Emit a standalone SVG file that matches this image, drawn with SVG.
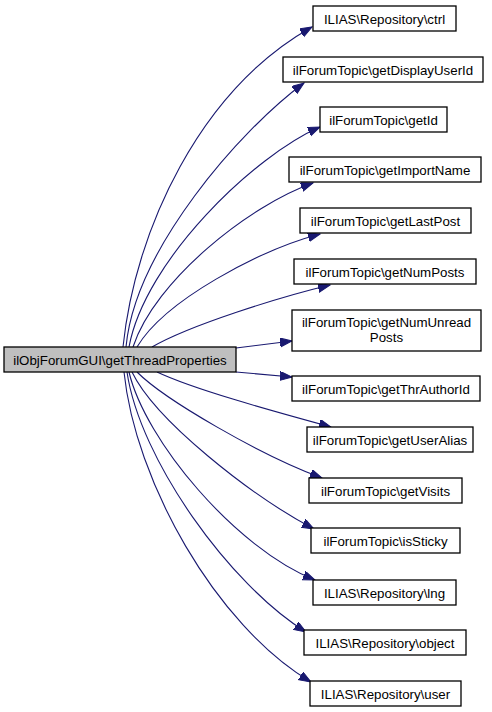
<svg xmlns="http://www.w3.org/2000/svg" width="492" height="712" viewBox="0 0 492 712">
<style>
.n rect{fill:#ffffff;stroke:#000000;stroke-width:1.3}
.n.main rect{fill:#bfbfbf}
.n text{font-family:"Liberation Sans",Arial,Helvetica,sans-serif;font-size:13.3px;fill:#000;text-anchor:middle}
.e path{fill:none;stroke:#191970;stroke-width:1.1}
</style>
<defs>
<marker id="ah" markerUnits="userSpaceOnUse" markerWidth="14" markerHeight="12" refX="12" refY="4.5" orient="auto">
<path d="M0,0 L12,4.5 L0,9 Z" fill="#191970" stroke="#191970" stroke-width="1"/>
</marker>
</defs>
<g id="edges" class="e">
<path marker-end="url(#ah)" d="M123,347 C135,230 200,90 312,27"/>
<path marker-end="url(#ah)" d="M126,347 C135,250 240,130 304,83"/>
<path marker-end="url(#ah)" d="M129,347 C145,260 255,155 320,127"/>
<path marker-end="url(#ah)" d="M133,347 C155,280 250,205 313,183"/>
<path marker-end="url(#ah)" d="M137,347 C165,300 260,250 320,234"/>
<path marker-end="url(#ah)" d="M152,347 C190,325 280,297 330,285"/>
<path marker-end="url(#ah)" d="M236,348 L292,341"/>
<path marker-end="url(#ah)" d="M236,372 L292,377"/>
<path marker-end="url(#ah)" d="M157,372 C195,390 280,413 331,427"/>
<path marker-end="url(#ah)" d="M137,372 C165,400 260,455 322,478"/>
<path marker-end="url(#ah)" d="M132,372 C155,420 250,495 314,529"/>
<path marker-end="url(#ah)" d="M129,372 C145,440 235,548 315,580"/>
<path marker-end="url(#ah)" d="M127,372 C140,460 230,585 306,632"/>
<path marker-end="url(#ah)" d="M124,372 C135,480 215,625 311,682"/>
</g>
<g id="node_main" class="n main"><rect x="4" y="347" width="232" height="25"/><text x="120" y="364.5">ilObjForumGUI\getThreadProperties</text></g>
<g id="node_ctrl" class="n"><rect x="313" y="6" width="143" height="25"/><text x="384.5" y="23.5">ILIAS\Repository\ctrl</text></g>
<g id="node_getDisplayUserId" class="n"><rect x="283" y="57" width="200" height="25"/><text x="383" y="74.5">ilForumTopic\getDisplayUserId</text></g>
<g id="node_getId" class="n"><rect x="320" y="107" width="127" height="25"/><text x="383.5" y="124.5">ilForumTopic\getId</text></g>
<g id="node_getImportName" class="n"><rect x="289" y="157" width="192" height="25"/><text x="385" y="174.5">ilForumTopic\getImportName</text></g>
<g id="node_getLastPost" class="n"><rect x="300" y="208" width="171" height="25"/><text x="385.5" y="225.5">ilForumTopic\getLastPost</text></g>
<g id="node_getNumPosts" class="n"><rect x="294" y="259" width="182" height="25"/><text x="385" y="276.5">ilForumTopic\getNumPosts</text></g>
<g id="node_getNumUnreadPosts" class="n"><rect x="292" y="310" width="189" height="41"/><text x="386.5" y="327">ilForumTopic\getNumUnread</text><text x="386.5" y="342">Posts</text></g>
<g id="node_getThrAuthorId" class="n"><rect x="292" y="376" width="188" height="25"/><text x="386" y="393.5">ilForumTopic\getThrAuthorId</text></g>
<g id="node_getUserAlias" class="n"><rect x="307" y="427" width="166" height="25"/><text x="390" y="444.5">ilForumTopic\getUserAlias</text></g>
<g id="node_getVisits" class="n"><rect x="309" y="478" width="153" height="25"/><text x="385.5" y="495.5">ilForumTopic\getVisits</text></g>
<g id="node_isSticky" class="n"><rect x="311" y="528" width="149" height="25"/><text x="385.5" y="545.5">ilForumTopic\isSticky</text></g>
<g id="node_lng" class="n"><rect x="313" y="580" width="143" height="25"/><text x="384.5" y="597.5">ILIAS\Repository\lng</text></g>
<g id="node_object" class="n"><rect x="304" y="630" width="162" height="25"/><text x="385" y="647.5">ILIAS\Repository\object</text></g>
<g id="node_user" class="n"><rect x="310" y="681" width="151" height="25"/><text x="385.5" y="698.5">ILIAS\Repository\user</text></g>
</svg>
